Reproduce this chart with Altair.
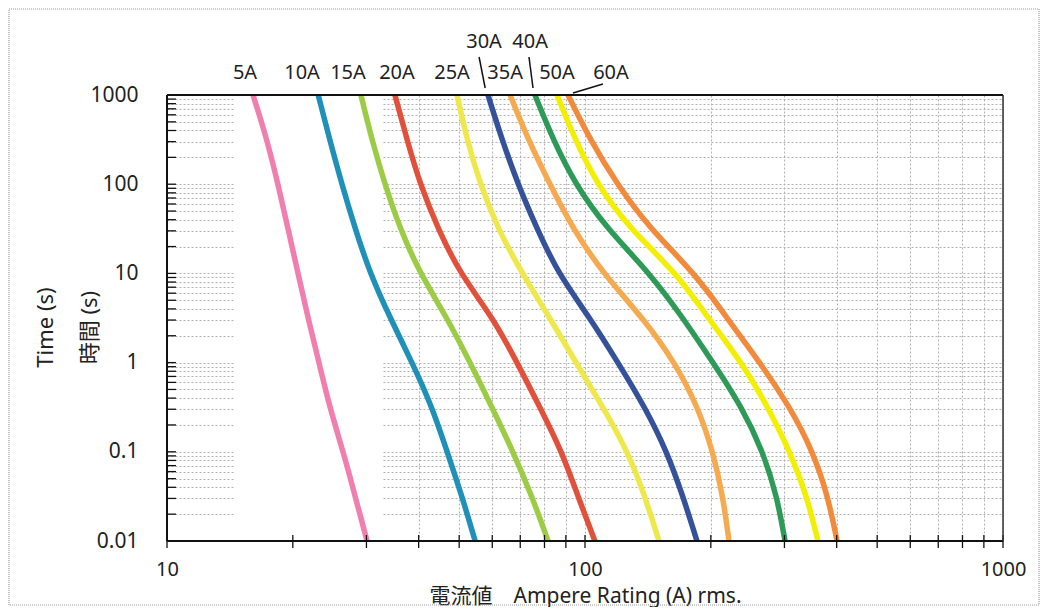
import altair as alt
import pandas as pd

# ---- data ----
times = [1000, 316, 100, 31.6, 10, 3.16, 1, 0.316, 0.1, 0.0316, 0.01]
ratings = ["5A", "10A", "15A", "20A", "25A", "30A", "35A", "40A", "50A", "60A"]
a5 = [16.06, 17.35, 18.43, 19.48, 20.58, 21.75, 23.1, 24.5, 26.4, 28.2, 30.1]
a10 = [23.0, 24.5, 26.2, 28.2, 30.6, 34.2, 38.6, 43.1, 46.8, 50.8, 54.6]
a15 = [29.1, 30.9, 33.2, 36.1, 40.3, 46.8, 53.1, 59.9, 67.3, 74.7, 81.6]
a20 = [35.1, 37.5, 40.3, 44.5, 50.2, 60.3, 68.8, 78.0, 88.1, 96.2, 105.6]
a25 = [49.4, 52.2, 56.1, 61.9, 70.7, 82.4, 95.2, 110.4, 126.7, 139.2, 150.3]
a30 = [58.6, 63.3, 69.1, 76.8, 86.2, 102.8, 119.9, 139.2, 157.1, 171.6, 185.3]
a35 = [66.2, 73.1, 82.4, 93.6, 110.4, 137.7, 164.2, 186.4, 202.4, 213.8, 221.1]
a40 = [75.9, 83.9, 94.7, 112.9, 143.1, 171.6, 202.4, 237.4, 266.6, 288.0, 301.0]
a50 = [85.7, 94.7, 106.8, 128.1, 166.0, 197.0, 237.4, 274.1, 309.4, 339.7, 360.9]
a60 = [91.1, 102.8, 119.3, 143.1, 183.3, 218.6, 262.2, 309.4, 351.2, 381.4, 400.9]
series = [a5, a10, a15, a20, a25, a30, a35, a40, a50, a60]

colors = ["#f07fb0", "#1f90b8", "#9ccc45", "#e0503a", "#eee84a",
          "#34519a", "#f6aa50", "#2e9a58", "#f3ef00", "#f28a3c"]

# annotation anchors (current values where the rating labels sit)
label_x = [15.37, 21.04, 27.1, 35.5, 48.07, 57.35, 64.4, 73.9, 85.7, 115.4]
label_upper = [0, 0, 0, 0, 0, 1, 0, 1, 0, 0]
lead_from = [55.8, 73.45]
lead_to = [57.7, 75.1]
lead60_from = [110.4]
lead60_to = [93.6]

x_ticks = [m * d for d in (10, 100) for m in range(1, 10)] + [1000]
y_ticks = [round(m * d, 4) for d in (0.01, 0.1, 1, 10, 100) for m in range(1, 10)] + [1000]

BAND_LO, BAND_HI = 14.55, 32.8

W, H = 836, 446

rows = []
for r, vals in zip(ratings, series):
    for i, t in zip(vals, times):
        rows.append({"rating": r, "I": i, "t": t})
df = pd.DataFrame(rows)

xs = alt.Scale(type="log", domain=[10, 1000])
ys = alt.Scale(type="log", domain=[0.01, 1000])

FONT = "Noto Sans"
TXT = "#222222"

decade_expr = "abs(log(datum.value)/LN10 - round(log(datum.value)/LN10)) < 0.001 ? datum.label : ''"

x_axis = alt.Axis(values=x_ticks, grid=True, gridColor="#b0b0b0", gridDash=[2, 2], gridWidth=1,
                  ticks=False, domain=False, format="~g", labelExpr=decade_expr,
                  labelFont=FONT, labelFontSize=20, labelColor=TXT, labelPadding=18,
                  labelOverlap=False, labelFlush=False,
                  title="電流値　Ampere Rating (A) rms.", titleFont="Noto Sans, Noto Sans CJK JP",
                  titleFontSize=21, titleFontWeight="normal", titleColor=TXT,
                  titleY=55, titleBaseline="middle")
y_axis = alt.Axis(values=y_ticks, grid=True, gridColor="#b0b0b0", gridDash=[2, 2], gridWidth=1,
                  ticks=False, domain=False, format="~g", labelExpr=decade_expr,
                  labelFont=FONT, labelFontSize=21, labelColor=TXT, labelPadding=29,
                  labelOverlap=False, labelFlush=False,
                  title=["Time (s)", "時間 (s)"], titleFont="Noto Sans, Noto Sans CJK JP",
                  titleFontSize=22, titleFontWeight="normal", titleColor=TXT,
                  titleLineHeight=44, titleX=-110, titleY=232, titleAngle=270,
                  titleBaseline="bottom", titleAlign="center")

X = lambda f="I:Q": alt.X(f, scale=xs, axis=x_axis)
Y = lambda f="t:Q": alt.Y(f, scale=ys, axis=y_axis)

# outer scan frame
outer = alt.Chart(pd.DataFrame({"k": [0]})).mark_rect(
    fillOpacity=0, stroke="#9a9a9a", strokeWidth=1.2, strokeDash=[1, 1]
).encode(x=alt.value(-158), x2=alt.value(W + 36), y=alt.value(-86), y2=alt.value(H + 64))

# white band (no printed grid there)
band = alt.Chart(pd.DataFrame({"I": [BAND_LO], "I2": [BAND_HI], "t": [0.01], "t2": [1000]})).mark_rect(
    color="white").encode(x=X(), x2="I2:Q", y=Y(), y2="t2:Q")

lines = alt.Chart(df).mark_line(strokeWidth=5.5, interpolate="basis", strokeCap="butt").encode(
    x=X(), y=Y(),
    color=alt.Color("rating:N", scale=alt.Scale(domain=ratings, range=colors), legend=None),
    detail="rating:N",
)

ytick = alt.Chart(pd.DataFrame({"t": y_ticks})).mark_rule(color="#111", strokeWidth=1.3).encode(
    y=Y(), x=alt.value(0), x2=alt.value(9))
xtick = alt.Chart(pd.DataFrame({"I": x_ticks})).mark_rule(color="#111", strokeWidth=1.3).encode(
    x=X(), y=alt.value(H - 6), y2=alt.value(H + 7))

frame_df = pd.DataFrame({"k": [0]})
f_left = alt.Chart(frame_df).mark_rule(color="#111", strokeWidth=2).encode(
    x=alt.value(0), y=alt.value(0), y2=alt.value(H))
f_bottom = alt.Chart(frame_df).mark_rule(color="#111", strokeWidth=2).encode(
    x=alt.value(0), x2=alt.value(W), y=alt.value(H))
f_top = alt.Chart(frame_df).mark_rule(color="#111", strokeWidth=2).encode(
    x=alt.value(0), x2=alt.value(W), y=alt.value(0))
f_right = alt.Chart(frame_df).mark_rule(color="#333", strokeWidth=1.5).encode(
    x=alt.value(W), y=alt.value(0), y2=alt.value(H))

lab_df = pd.DataFrame({"I": label_x, "text": ratings, "upper": label_upper})
lab_low = alt.Chart(lab_df).transform_filter("datum.upper == 0").mark_text(
    font=FONT, fontSize=20, color=TXT, align="center", baseline="middle").encode(
    x=X(), y=alt.value(-22), text="text:N")
lab_up = alt.Chart(lab_df).transform_filter("datum.upper == 1").mark_text(
    font=FONT, fontSize=20, color=TXT, align="center", baseline="middle").encode(
    x=X(), y=alt.value(-53), text="text:N")

lead = alt.Chart(pd.DataFrame({"I": lead_from, "I2": lead_to})).mark_rule(color="#111", strokeWidth=1.5).encode(
    x=X(), x2="I2:Q", y=alt.value(-38), y2=alt.value(-7))
lead60 = alt.Chart(pd.DataFrame({"I": lead60_from, "I2": lead60_to})).mark_rule(color="#111", strokeWidth=1.5).encode(
    x=X(), x2="I2:Q", y=alt.value(-11), y2=alt.value(-2))

chart = alt.layer(
    outer, band, lines, ytick, xtick, f_left, f_bottom, f_top, f_right, lab_low, lab_up, lead, lead60
).properties(
    width=W, height=H,
    autosize="none",
    padding={"left": 159, "top": 87, "right": 39, "bottom": 66},
).configure_view(stroke=None).configure(background="white")

chart.save("out.html", embed_options={"renderer": "svg", "actions": False})
